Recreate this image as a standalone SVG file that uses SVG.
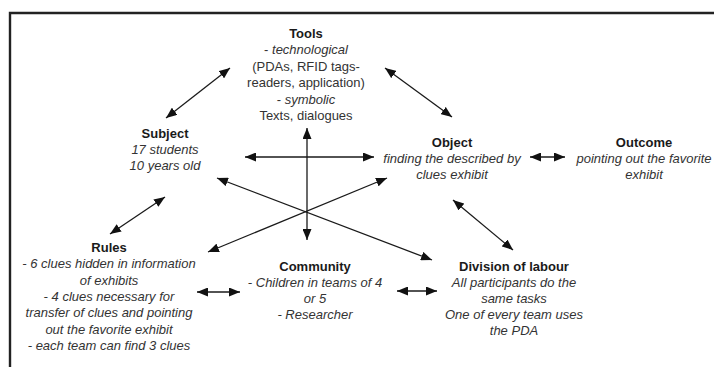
<svg xmlns="http://www.w3.org/2000/svg" width="714" height="367" viewBox="0 0 714 367">
<style>
text{font-family:"Liberation Sans",Arial,sans-serif;font-size:13px;fill:#333;text-anchor:middle}
.b{font-weight:bold;fill:#1a1a1a}
.i{font-style:italic}
.c line{stroke:#1a1a1a;stroke-width:1.3;marker-start:url(#ah);marker-end:url(#ah)}
</style>
<defs>
<marker id="ah" markerUnits="userSpaceOnUse" markerWidth="11" markerHeight="9" refX="11" refY="4.5" orient="auto-start-reverse" viewBox="0 0 11 9">
<path d="M0,0 L11,4.5 L0,9 z" fill="#111"/>
</marker>
</defs>
<rect width="714" height="367" fill="#fff"/>
<path d="M10,367 V13 H714" fill="none" stroke="#222" stroke-width="2.4"/>
<g id="tools">
<text class="b" x="306" y="38">Tools</text>
<text x="306" y="54.4">- <tspan class="i">technological</tspan></text>
<text x="306" y="70.8">(PDAs, RFID tags-</text>
<text x="306" y="87.2">readers, application)</text>
<text x="306" y="103.6">- <tspan class="i">symbolic</tspan></text>
<text x="306" y="120">Texts, dialogues</text>
</g>
<g id="subject">
<text class="b" x="165" y="138">Subject</text>
<text class="i" x="165" y="154">17 students</text>
<text class="i" x="165" y="170">10 years old</text>
</g>
<g id="object">
<text class="b" x="452" y="147">Object</text>
<text class="i" x="452" y="163">finding the described by</text>
<text class="i" x="452" y="179">clues exhibit</text>
</g>
<g id="outcome">
<text class="b" x="644" y="147">Outcome</text>
<text class="i" x="644" y="163">pointing out the favorite</text>
<text class="i" x="644" y="179">exhibit</text>
</g>
<g id="rules">
<text class="b" x="109" y="252">Rules</text>
<text class="i" x="109" y="268.3">- 6 clues hidden in information</text>
<text class="i" x="109" y="284.6">of exhibits</text>
<text class="i" x="109" y="300.9">- 4 clues necessary for</text>
<text class="i" x="109" y="317.2">transfer of clues and pointing</text>
<text class="i" x="109" y="333.5">out the favorite exhibit</text>
<text class="i" x="109" y="349.8">- each team can find 3 clues</text>
</g>
<g id="community">
<text class="b" x="315" y="271">Community</text>
<text class="i" x="315" y="287">- Children in teams of 4</text>
<text class="i" x="315" y="303">or 5</text>
<text class="i" x="315" y="319">- Researcher</text>
</g>
<g id="division">
<text class="b" x="514" y="271">Division of labour</text>
<text class="i" x="514" y="287">All participants do the</text>
<text class="i" x="514" y="303">same tasks</text>
<text class="i" x="514" y="319">One of every team uses</text>
<text class="i" x="514" y="335">the PDA</text>
</g>
<g id="connectors" class="c">
<line x1="230" y1="68" x2="166" y2="118"/>
<line x1="385" y1="68" x2="452" y2="117"/>
<line x1="245" y1="157" x2="374" y2="157"/>
<line x1="307" y1="128" x2="307" y2="240"/>
<line x1="217" y1="178" x2="432" y2="260"/>
<line x1="208" y1="252" x2="387" y2="178"/>
<line x1="530" y1="157" x2="565" y2="157"/>
<line x1="110" y1="234" x2="165" y2="197"/>
<line x1="453" y1="200" x2="513" y2="250"/>
<line x1="197" y1="292" x2="240" y2="292"/>
<line x1="397" y1="291" x2="437" y2="291"/>
</g>
</svg>
